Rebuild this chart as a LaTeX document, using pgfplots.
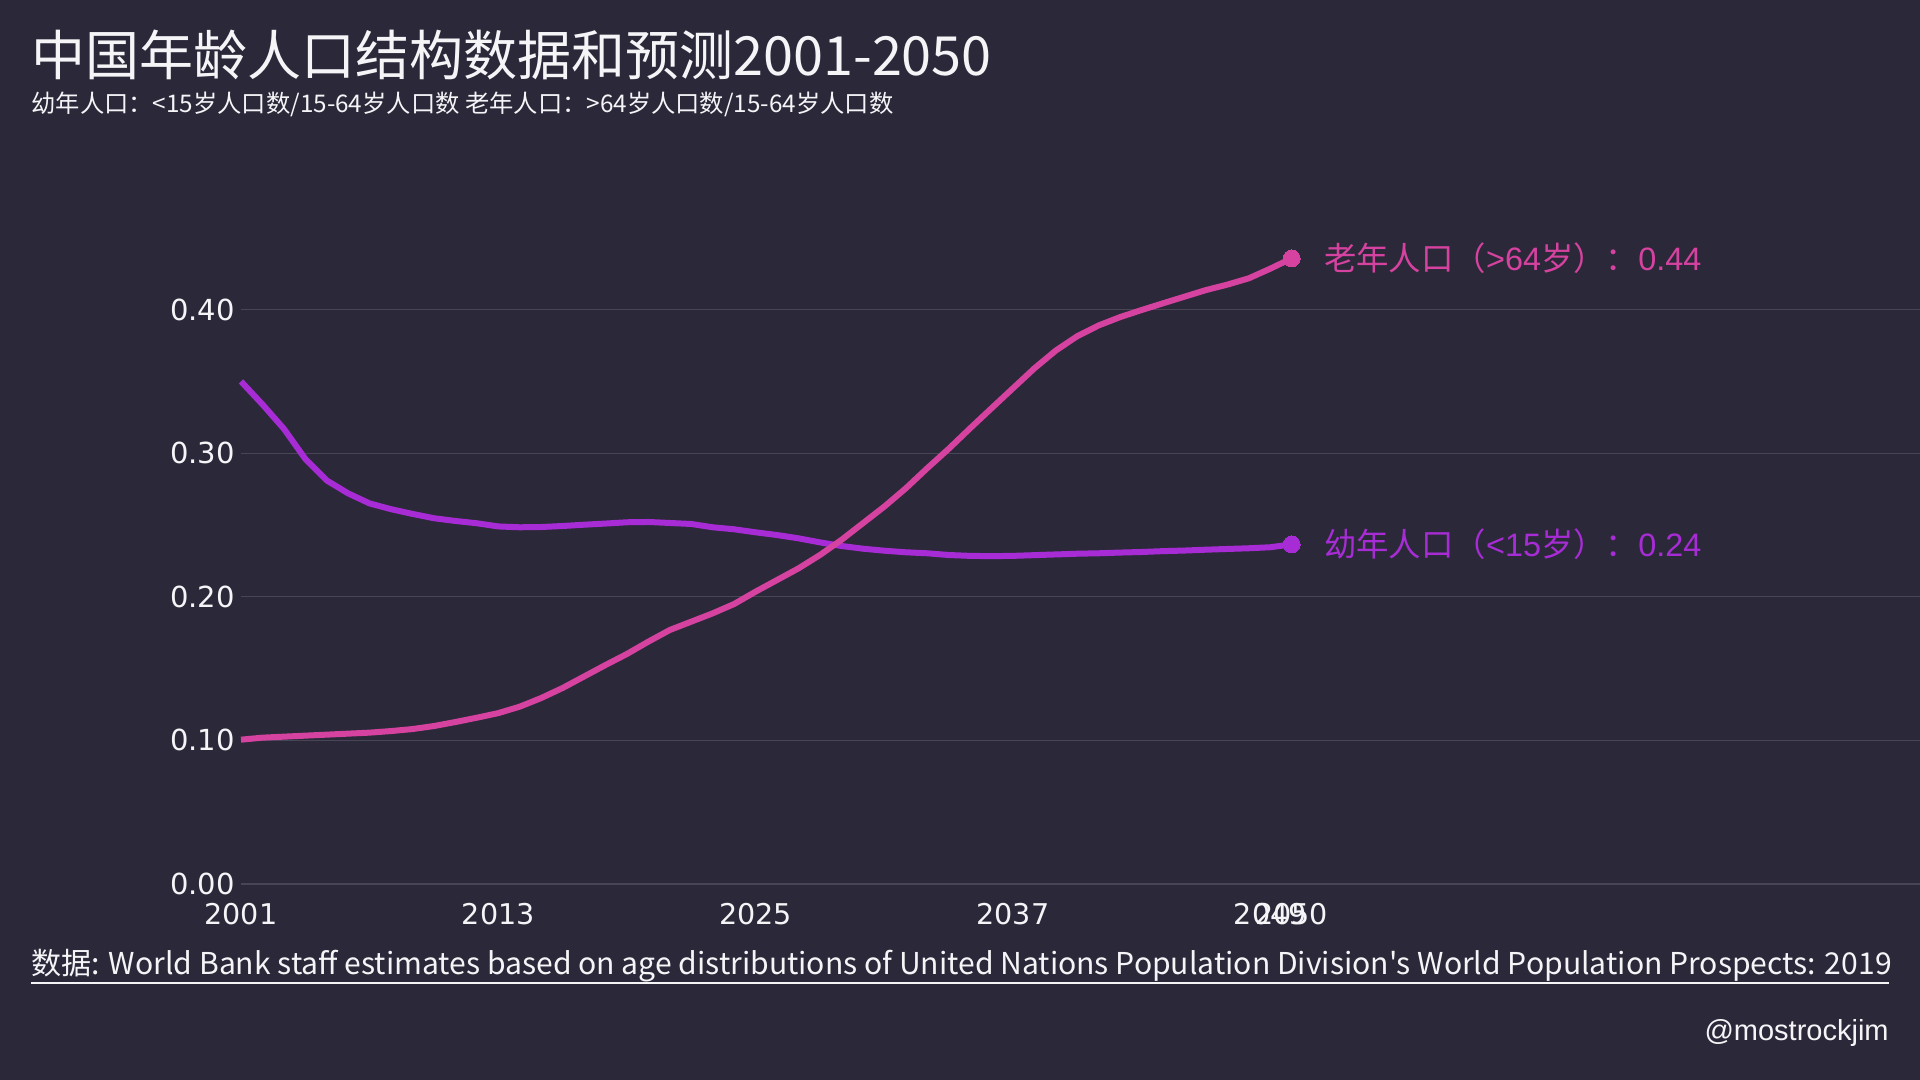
\documentclass[border=0pt]{standalone}
\usepackage{fontspec}
\usepackage{pgfplots}
\pgfplotsset{compat=1.18}
\setmainfont{Noto Sans CJK SC}
\newfontfamily\cjk{Noto Sans CJK SC}
\newfontfamily\dejavu{DejaVu Sans}
\newfontfamily\arial{Liberation Sans}
\definecolor{bg}{RGB}{43,41,57}
\definecolor{gridc}{RGB}{72,70,86}
\definecolor{pinkc}{RGB}{214,66,160}
\definecolor{purpc}{RGB}{168,44,214}
\definecolor{txt}{RGB}{245,245,248}

\pgfplotstableread{
year val
2001 0.350
2002 0.334
2003 0.317
2004 0.296
2005 0.281
2006 0.272
2007 0.265
2008 0.261
2009 0.2577
2010 0.2547
2011 0.2528
2012 0.2512
2013 0.2490
2014 0.2484
2015 0.2486
2016 0.2493
2017 0.2502
2018 0.2510
2019 0.2519
2020 0.2521
2021 0.2514
2022 0.2507
2023 0.2484
2024 0.2470
2025 0.2449
2026 0.2430
2027 0.2407
2028 0.2379
2029 0.2354
2030 0.2335
2031 0.2321
2032 0.2310
2033 0.2303
2034 0.2291
2035 0.2285
2036 0.2283
2037 0.2285
2038 0.2290
2039 0.2295
2040 0.2300
2041 0.2303
2042 0.2308
2043 0.2312
2044 0.2318
2045 0.2322
2046 0.2328
2047 0.2333
2048 0.2338
2049 0.2345
2050 0.2365
}\young

\pgfplotstableread{
year val
2001 0.1005
2002 0.1019
2003 0.1026
2004 0.1033
2005 0.1040
2006 0.1047
2007 0.1054
2008 0.1065
2009 0.1079
2010 0.1100
2011 0.1128
2012 0.1158
2013 0.1190
2014 0.1235
2015 0.1295
2016 0.1365
2017 0.1445
2018 0.1525
2019 0.1602
2020 0.1688
2021 0.1769
2022 0.1827
2023 0.1885
2024 0.1950
2025 0.2036
2026 0.2117
2027 0.2198
2028 0.2291
2029 0.2396
2030 0.2512
2031 0.2628
2032 0.2755
2033 0.2895
2034 0.3030
2035 0.3173
2036 0.3313
2037 0.3452
2038 0.3591
2039 0.3715
2040 0.3815
2041 0.3890
2042 0.3948
2043 0.3997
2044 0.4044
2045 0.4090
2046 0.4136
2047 0.4174
2048 0.4218
2049 0.4285
2050 0.4357
}\old

\begin{document}
\begin{tikzpicture}
\path[use as bounding box, fill=bg] (0,0) rectangle (960pt,540pt);
\node[anchor=base west, inner sep=0pt, text=txt, font=\cjk\fontsize{27pt}{30pt}\selectfont] at (15.5pt,502pt) {中国年龄人口结构数据和预测2001-2050};
\node[anchor=base west, inner sep=0pt, text=txt, font=\cjk\fontsize{12.15pt}{14pt}\selectfont] at (15.5pt,483.5pt) {幼年人口：<15岁人口数/15-64岁人口数 老年人口：>64岁人口数/15-64岁人口数};
\begin{axis}[
  at={(120.5pt,98pt)}, anchor=south west,
  width=839.5pt, height=323.1pt, scale only axis,
  xmin=2001, xmax=2079.3, ymin=0, ymax=0.45,
  clip=false,
  axis line style={draw=none},
  major tick length=0pt,
  tick style={draw=none},
  ymajorgrids, grid style={color=gridc, line width=0.6pt},
  ytick={0,0.1,0.2,0.3,0.4},
  xtick={2001,2013,2025,2037,2049,2050},
  /pgf/number format/assume math mode=true,
  /pgf/number format/1000 sep={},
  yticklabel style={font=\dejavu\fontsize{14.5pt}{16pt}\selectfont, text=txt, inner sep=0pt,
    /pgf/number format/.cd, fixed, fixed zerofill, precision=2},
  xticklabel style={font=\dejavu\fontsize{14.3pt}{16pt}\selectfont, text=txt, inner sep=0pt},
  yticklabel shift=3pt,
  xticklabel shift=9.5pt,
]
\addplot[purpc, line width=3pt, line join=round, mark=*, mark indices={50}, mark size=4.2pt,
  mark options={fill=purpc, draw=purpc, line width=0pt}] table[x=year, y=val] {\young};
\addplot[pinkc, line width=3pt, line join=round, mark=*, mark indices={50}, mark size=4.2pt,
  mark options={fill=pinkc, draw=pinkc, line width=0pt}] table[x=year, y=val] {\old};
\node[anchor=base west, inner sep=0pt, text=pinkc, font=\fontsize{16.2pt}{18pt}\selectfont, xshift=16pt, yshift=-6pt]
  at (axis cs:2050,0.4357) {{\cjk 老年人口（}{\arial >64}{\cjk 岁）：}{\arial 0.44}};
\node[anchor=base west, inner sep=0pt, text=purpc, font=\fontsize{16.2pt}{18pt}\selectfont, xshift=16pt, yshift=-6pt]
  at (axis cs:2050,0.2365) {{\cjk 幼年人口（}{\arial <15}{\cjk 岁）：}{\arial 0.24}};
\end{axis}
\node[anchor=base west, inner sep=0pt, text=txt, font=\cjk\fontsize{15.05pt}{17pt}\selectfont] at (15.5pt,52.5pt) {数据: World Bank staff estimates based on age distributions of United Nations Population Division's World Population Prospects: 2019};
\draw[txt, line width=1.1pt] (15.5pt,48.5pt) -- (944.5pt,48.5pt);
\node[anchor=base east, inner sep=0pt, text=txt, font=\arial\fontsize{14.5pt}{16pt}\selectfont] at (944.5pt,19.5pt) {@mostrockjim};
\end{tikzpicture}
\end{document}
